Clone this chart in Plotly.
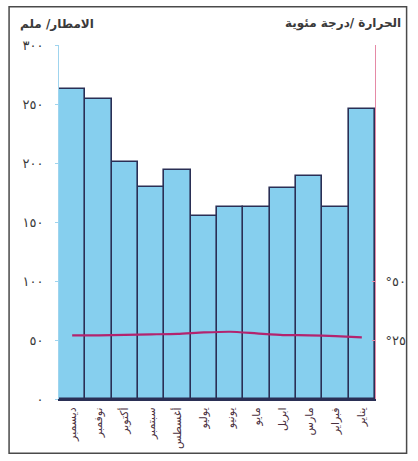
import plotly.graph_objects as go

# Monthly climate data (calendar order, displayed right-to-left)
months = ["يناير", "فبراير", "مارس", "ابريل", "مايو", "يونيو",
          "يوليو", "أغسطس", "سبتمبر", "أكتوبر", "نوفمبر", "ديسمبر"]
rain_mm = [246, 163, 189, 179, 163, 163, 155, 194, 180, 201, 254, 263]
temp_c = [26.1, 26.6, 27.0, 27.1, 27.8, 28.5, 28.2, 27.6, 27.4, 27.2, 27.0, 27.0]

rain_ticks = [0, 50, 100, 150, 200, 250, 300]
rain_tick_text = ["٠", "٥٠", "١٠٠", "١٥٠", "٢٠٠", "٢٥٠", "٣٠٠"]
temp_ticks = [25, 50]
temp_tick_text = ["°٢٥", "°٥٠"]

FONT = "DejaVu Sans"
INK = "#3a3a3a"

fig = go.Figure()

fig.add_trace(go.Bar(
    x=months, y=rain_mm,
    marker=dict(color="#86cfee", line=dict(color="#2a2f55", width=1.6)),
    width=1.0,
    hoverinfo="skip",
))

fig.add_trace(go.Scatter(
    x=months, y=temp_c, yaxis="y2",
    mode="lines",
    line=dict(color="#b3246e", width=2.2, shape="spline", smoothing=0.6),
    hoverinfo="skip",
))

fig.update_layout(
    width=418, height=461,
    margin=dict(l=59, r=38, t=45, b=60),
    paper_bgcolor="white", plot_bgcolor="white",
    showlegend=False,
    bargap=0,
    font=dict(family=FONT, color=INK),
    xaxis=dict(
        type="category", autorange="reversed",
        tickangle=-90, tickfont=dict(size=11, color="#4a3040"),
        showline=True, linecolor="#2a2f55", linewidth=2,
        ticks="", showgrid=False, zeroline=False,
        ticklabelstandoff=2,
    ),
    yaxis=dict(
        range=[0, 300], tickvals=rain_ticks, ticktext=rain_tick_text,
        tickfont=dict(size=13, color=INK),
        showline=True, linecolor="#9fd4ee", linewidth=1,
        ticks="outside", ticklen=3, tickcolor="#9fd4ee",
        ticklabelstandoff=9,
        showgrid=False, zeroline=False,
    ),
    yaxis2=dict(
        overlaying="y", side="right",
        range=[0, 150], tickvals=temp_ticks, ticktext=temp_tick_text,
        tickfont=dict(size=13, color=INK),
        showline=True, linecolor="#e58aa6", linewidth=1,
        ticks="inside", ticklen=3, tickcolor="#e58aa6",
        ticklabelstandoff=7,
        showgrid=False, zeroline=False,
    ),
)

# Axis titles
fig.add_annotation(text="<b>الامطار/ ملم</b>", xref="paper", yref="paper",
                   x=-0.005, y=1.06, xanchor="center", yanchor="middle",
                   showarrow=False, font=dict(size=12, color=INK))
fig.add_annotation(text="<b>الحرارة /درجة مئوية</b>", xref="paper", yref="paper",
                   x=1.09, y=1.06, xanchor="right", yanchor="middle",
                   showarrow=False, font=dict(size=12, color=INK))

# Outer frame around the whole figure
fig.add_shape(type="rect", xref="paper", yref="paper",
              x0=-0.158, x1=1.10, y0=-0.153, y1=1.108,
              line=dict(color="#4a4a4a", width=1.5), fillcolor="rgba(0,0,0,0)")

fig.write_html("out.html")
